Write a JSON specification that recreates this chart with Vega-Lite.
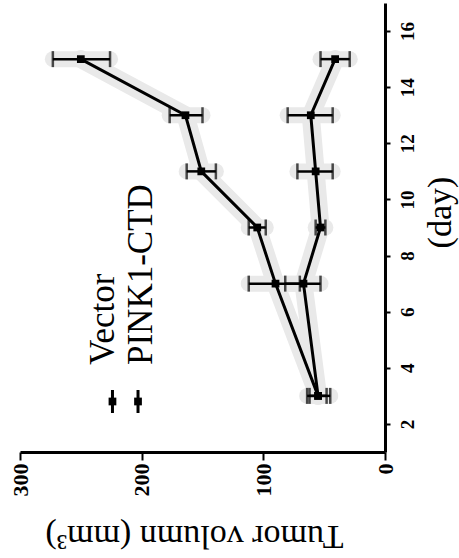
{
  "$schema": "https://vega.github.io/schema/vega-lite/v6.json",
  "autosize": "none",
  "width": 365,
  "height": 449,
  "padding": {"left": 20, "top": 3, "right": 74, "bottom": 106},
  "background": "white",
  "config": {"view": {"stroke": null}},
  "data": {"values": [
    {"series": "Vector", "day": 3, "mean": 55, "lo": 45, "hi": 64},
    {"series": "Vector", "day": 7, "mean": 90, "lo": 70, "hi": 112},
    {"series": "Vector", "day": 9, "mean": 105, "lo": 98, "hi": 112},
    {"series": "Vector", "day": 11, "mean": 151, "lo": 139, "hi": 163},
    {"series": "Vector", "day": 13, "mean": 164, "lo": 150, "hi": 177},
    {"series": "Vector", "day": 15, "mean": 250, "lo": 226, "hi": 273},
    {"series": "PINK1-CTD", "day": 3, "mean": 55, "lo": 48, "hi": 62},
    {"series": "PINK1-CTD", "day": 7, "mean": 67, "lo": 53, "hi": 82},
    {"series": "PINK1-CTD", "day": 9, "mean": 53, "lo": 49, "hi": 57},
    {"series": "PINK1-CTD", "day": 11, "mean": 57, "lo": 43, "hi": 72},
    {"series": "PINK1-CTD", "day": 13, "mean": 61, "lo": 43, "hi": 80},
    {"series": "PINK1-CTD", "day": 15, "mean": 41, "lo": 29, "hi": 53}
  ]},
  "layer": [
    {
      "mark": {"type": "line", "color": "#e9e9e9", "strokeWidth": 18, "strokeCap": "round", "strokeJoin": "round"},
      "encoding": {
        "x": {"field": "mean", "type": "quantitative",
          "scale": {"domain": [0, 300], "reverse": true, "nice": false, "zero": false},
          "axis": {
            "orient": "bottom", "values": [0, 100, 200, 300], "grid": false,
            "domainColor": "black", "domainWidth": 3, "tickColor": "black", "tickWidth": 2, "tickSize": 8,
            "labelAngle": -90, "labelAlign": "right", "labelBaseline": "middle", "labelPadding": 3,
            "labelFont": "Liberation Serif", "labelFontSize": 22, "labelFontWeight": "bold", "labelColor": "black",
            "title": "Tumor volumn (mm³)", "titleAngle": 180, "titleFont": "Liberation Serif", "titleFontSize": 34,
            "titleFontWeight": "normal", "titleColor": "black", "titleX": 174, "titleY": 83,
            "titleAlign": "center", "titleBaseline": "middle"
          }},
        "y": {"field": "day", "type": "quantitative",
          "scale": {"domain": [1, 17], "nice": false, "zero": false},
          "axis": {
            "orient": "right", "values": [2, 4, 6, 8, 10, 12, 14, 16], "grid": false,
            "domainColor": "black", "domainWidth": 3, "tickColor": "black", "tickWidth": 2, "tickSize": 5,
            "labelAngle": -90, "labelAlign": "center", "labelBaseline": "top", "labelPadding": 8,
            "labelFont": "Liberation Serif", "labelFontSize": 19, "labelFontWeight": "bold", "labelColor": "black",
            "title": "(day)", "titleAngle": -90, "titleFont": "Liberation Serif", "titleFontSize": 34,
            "titleFontWeight": "normal", "titleColor": "black", "titleX": 55, "titleY": 209,
            "titleAlign": "center", "titleBaseline": "middle"
          }},
        "detail": {"field": "series"},
        "order": {"field": "day"}
      }
    },
    {
      "mark": {"type": "rule", "color": "#e9e9e9", "strokeWidth": 16, "strokeCap": "round"},
      "encoding": {
        "x": {"field": "lo", "type": "quantitative"},
        "x2": {"field": "hi"},
        "y": {"field": "day", "type": "quantitative"}
      }
    },
    {
      "mark": {"type": "rule", "color": "black", "strokeWidth": 2.5},
      "encoding": {
        "x": {"field": "lo", "type": "quantitative"},
        "x2": {"field": "hi"},
        "y": {"field": "day", "type": "quantitative"}
      }
    },
    {
      "mark": {"type": "tick", "orient": "vertical", "color": "black", "size": 16, "thickness": 2.5},
      "encoding": {
        "x": {"field": "lo", "type": "quantitative"},
        "y": {"field": "day", "type": "quantitative"}
      }
    },
    {
      "mark": {"type": "tick", "orient": "vertical", "color": "black", "size": 16, "thickness": 2.5},
      "encoding": {
        "x": {"field": "hi", "type": "quantitative"},
        "y": {"field": "day", "type": "quantitative"}
      }
    },
    {
      "mark": {"type": "line", "color": "black", "strokeWidth": 3},
      "encoding": {
        "x": {"field": "mean", "type": "quantitative"},
        "y": {"field": "day", "type": "quantitative"},
        "detail": {"field": "series"},
        "order": {"field": "day"}
      }
    },
    {
      "mark": {"type": "point", "shape": "square", "filled": true, "color": "black", "size": 60, "opacity": 1},
      "encoding": {
        "x": {"field": "mean", "type": "quantitative"},
        "y": {"field": "day", "type": "quantitative"}
      }
    },
    {
      "data": {"values": [{"series": "Vector"}]},
      "mark": {"type": "text", "angle": -90, "align": "left", "baseline": "alphabetic", "font": "Liberation Serif", "fontSize": 35, "color": "black"},
      "encoding": {
        "x": {"datum": 222.7, "type": "quantitative"},
        "y": {"datum": 4.1, "type": "quantitative"},
        "text": {"field": "series"}
      }
    },
    {
      "data": {"values": [{"series": "PINK1-CTD"}]},
      "mark": {"type": "text", "angle": -90, "align": "left", "baseline": "alphabetic", "font": "Liberation Serif", "fontSize": 35, "color": "black"},
      "encoding": {
        "x": {"datum": 191.5, "type": "quantitative"},
        "y": {"datum": 4.1, "type": "quantitative"},
        "text": {"field": "series"}
      }
    },
    {
      "data": {"values": [{"series": "Vector"}]},
      "mark": {"type": "rule", "color": "black", "strokeWidth": 3},
      "encoding": {
        "x": {"datum": 224, "type": "quantitative"},
        "y": {"datum": 2.39, "type": "quantitative"},
        "y2": {"datum": 3.21}
      }
    },
    {
      "data": {"values": [{"series": "PINK1-CTD"}]},
      "mark": {"type": "rule", "color": "black", "strokeWidth": 3},
      "encoding": {
        "x": {"datum": 203, "type": "quantitative"},
        "y": {"datum": 2.39, "type": "quantitative"},
        "y2": {"datum": 3.21}
      }
    },
    {
      "data": {"values": [{"series": "Vector"}]},
      "mark": {"type": "point", "shape": "square", "filled": true, "color": "black", "size": 60, "opacity": 1},
      "encoding": {
        "x": {"datum": 224, "type": "quantitative"},
        "y": {"datum": 2.8, "type": "quantitative"}
      }
    },
    {
      "data": {"values": [{"series": "PINK1-CTD"}]},
      "mark": {"type": "point", "shape": "square", "filled": true, "color": "black", "size": 60, "opacity": 1},
      "encoding": {
        "x": {"datum": 203, "type": "quantitative"},
        "y": {"datum": 2.8, "type": "quantitative"}
      }
    }
  ]
}
